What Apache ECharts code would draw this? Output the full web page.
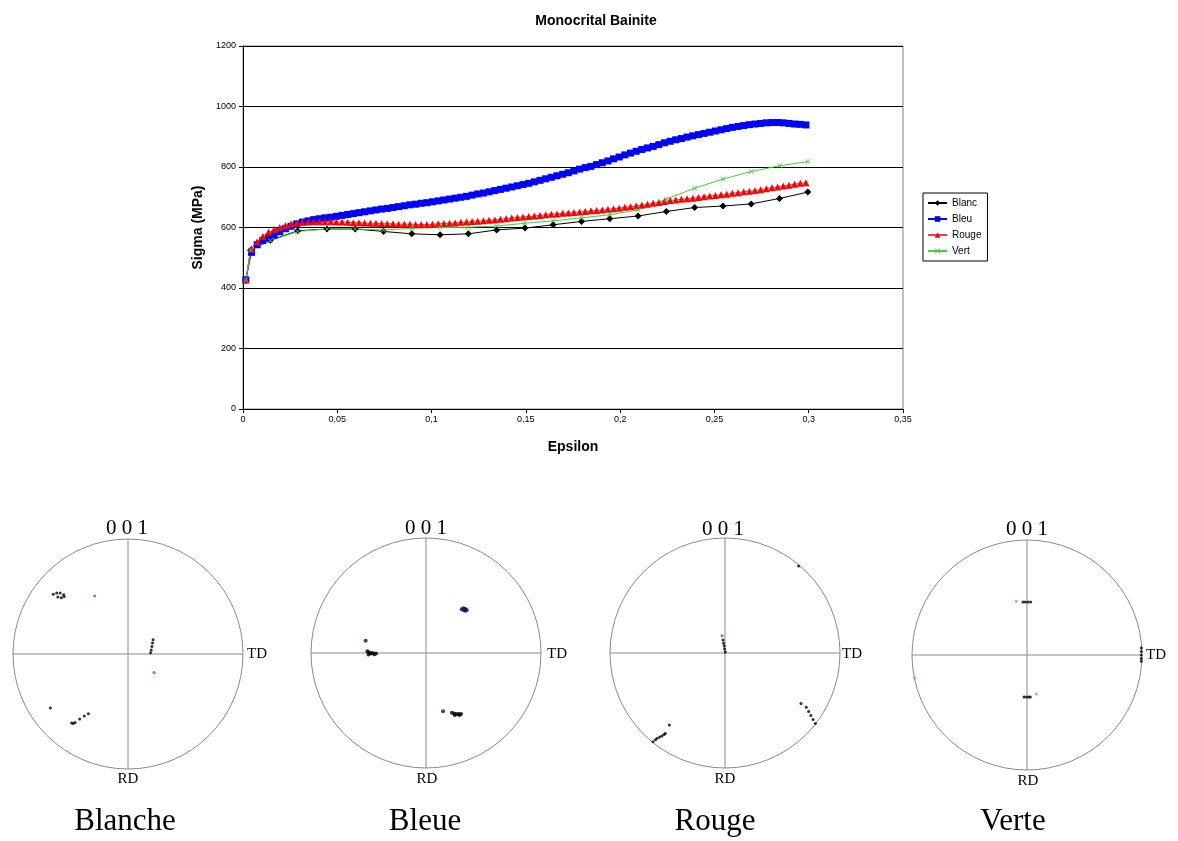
<!DOCTYPE html>
<html>
<head>
<meta charset="utf-8">
<script src="https://cdn.jsdelivr.net/npm/echarts@6/dist/echarts.min.js"></script>
<style>
html,body{margin:0;padding:0;background:#fff;}
#c{width:1178px;height:841px;}
</style>
</head>
<body>
<div id="c"></div>
<script>
// ---------- stress-strain data ----------
var epsDense = [0.0015,0.0045,0.0075,0.0105,0.0135,0.0165,0.0195,0.0225,0.0255,0.0285,0.0315,0.0345,0.0375,0.0405,0.0435,0.0465,0.0495,0.0525,0.0555,0.0585,0.0615,0.0645,0.0675,0.0705,0.0735,0.0765,0.0795,0.0825,0.0855,0.0885,0.0915,0.0945,0.0975,0.1005,0.1035,0.1065,0.1095,0.1125,0.1155,0.1185,0.1215,0.1245,0.1275,0.1305,0.1335,0.1365,0.1395,0.1425,0.1455,0.1485,0.1515,0.1545,0.1575,0.1605,0.1635,0.1665,0.1695,0.1725,0.1755,0.1785,0.1815,0.1845,0.1875,0.1905,0.1935,0.1965,0.1995,0.2025,0.2055,0.2085,0.2115,0.2145,0.2175,0.2205,0.2235,0.2265,0.2295,0.2325,0.2355,0.2385,0.2415,0.2445,0.2475,0.2505,0.2535,0.2565,0.2595,0.2625,0.2655,0.2685,0.2715,0.2745,0.2775,0.2805,0.2835,0.2865,0.2895,0.2925,0.2955,0.2985];
var bleu = [427,518,543,557,566,575,586,596,604,612,618,622,626,629,632,634,637,640,643,646,649,652,655,658,661,663,666,669,672,675,677,680,682,685,688,691,694,697,700,703,707,711,714,718,722,726,730,734,738,742,746,751,756,761,766,771,776,781,787,793,798,802,808,814,820,827,833,840,846,852,858,863,868,874,880,885,890,894,899,903,907,911,915,919,923,927,931,934,937,940,942,944,946,947,947,946,944,942,941,939];
var rouge = [427,530,553,570,584,593,600,607,612,615,617,618,619,619,619,619,618,618,617,616,616,615,614,614,613,612,612,611,611,611,610,610,610,611,612,613,614,615,617,618,620,621,622,624,625,627,629,631,633,635,636,638,640,642,644,645,647,648,650,651,653,655,656,658,660,662,664,667,669,671,674,677,680,683,686,689,691,693,695,697,699,702,704,706,708,710,713,715,718,720,722,725,728,731,734,737,740,743,746,748];
var epsSparse = [0.0015,0.004,0.0145,0.029,0.0445,0.0595,0.0745,0.0895,0.1045,0.1195,0.1345,0.1495,0.1645,0.1795,0.1945,0.2095,0.2245,0.2395,0.2545,0.2695,0.2845,0.2995];
var blanc = [425,525,558,589,595,595,587,579,576,579,592,598,609,620,629,638,653,666,671,678,696,717];
var vert  = [427,525,556,587,595,595,592,597,600,601,605,614,622,632,642,658,694,730,760,785,804,818];
var seriesNames = ['Blanc','Bleu','Rouge','Vert'];
var xTicks = [0,0.05,0.1,0.15,0.2,0.25,0.3,0.35];
var yTicks = [0,200,400,600,800,1000,1200];

// ---------- pole figure data (unit-circle x = TD, y = up) ----------
var poleNames = ['Blanche','Bleue','Rouge','Verte'];
var blancheBlack = [[-0.65,0.52],[-0.62,0.53],[-0.59,0.53],[-0.56,0.515],[-0.555,0.50],[-0.58,0.49],[-0.61,0.495],[0.218,0.125],[0.213,0.095],[0.208,0.065],[0.202,0.035],[0.196,0.01],[-0.675,-0.47],[-0.49,-0.60],[-0.475,-0.605],[-0.46,-0.595],[-0.42,-0.565],[-0.38,-0.54],[-0.345,-0.52]];
var blancheRed = [[-0.29,0.505],[0.226,-0.16]];
var bleueNavy = [[0.31,0.38],[0.325,0.39],[0.34,0.385],[0.355,0.375],[0.33,0.37],[0.345,0.368],[-0.525,0.107],[0.148,-0.507]];
var bleueBlack = [[-0.51,0.015],[-0.495,0.005],[-0.48,-0.005],[-0.465,0.0],[-0.45,-0.01],[-0.435,-0.005],[-0.5,-0.012],[0.225,-0.52],[0.245,-0.525],[0.265,-0.53],[0.285,-0.53],[0.305,-0.53],[0.25,-0.54],[0.29,-0.54]];
var rougeBlack = [[-0.017,0.113],[-0.012,0.085],[-0.007,0.06],[-0.003,0.035],[0.002,0.008],[0.64,0.757],[-0.626,-0.771],[-0.605,-0.755],[-0.59,-0.742],[-0.568,-0.73],[-0.548,-0.722],[-0.53,-0.708],[-0.519,-0.699],[-0.484,-0.626],[0.661,-0.44],[0.707,-0.472],[0.727,-0.508],[0.746,-0.543],[0.766,-0.578],[0.786,-0.614]];
var rougeRed = [[-0.026,0.15]];
var verteBlack = [[-0.035,0.46],[-0.015,0.46],[0.01,0.46],[0.032,0.46],[0.994,0.06],[0.994,0.03],[0.994,0.0],[0.994,-0.03],[0.994,-0.055],[-0.026,-0.365],[-0.005,-0.365],[0.015,-0.365],[0.029,-0.365]];
var verteGreen = [[-0.093,0.467],[-0.977,-0.2],[0.081,-0.339]];

function pairs(xs, ys){ return xs.map(function(x,i){ return [x, ys[i]]; }); }
function toPolar(pts){
  return pts.map(function(p){
    var r = Math.sqrt(p[0]*p[0]+p[1]*p[1]);
    var a = Math.atan2(p[1],p[0])*180/Math.PI; if (a<0) a+=360;
    return [r,a];
  });
}
function comma(v){ return String(+v.toFixed(2)).replace('.',','); }

var xSym = 'path://M0,1L1,0L5,4L9,0L10,1L6,5L10,9L9,10L5,6L1,10L0,9L4,5Z';

var chart = echarts.init(document.getElementById('c'), null, {renderer:'canvas'});

var polarCenters = [[128,654],[426,653],[725,653],[1027,655]];
var polars = [], angleAxes = [], radiusAxes = [];
polarCenters.forEach(function(c,i){
  polars.push({center:c, radius:115});
  angleAxes.push({polarIndex:i, type:'value', min:0, max:360, interval:90, startAngle:0, clockwise:false,
    axisLine:{show:true, lineStyle:{color:'#8a8a8a', width:1}}, axisTick:{show:false}, axisLabel:{show:false},
    splitLine:{show:true, lineStyle:{color:'#8a8a8a', width:1}}});
  radiusAxes.push({polarIndex:i, type:'value', min:0, max:1,
    axisLine:{show:false}, axisTick:{show:false}, axisLabel:{show:false}, splitLine:{show:false}});
});

function poleSeries(pi, pts, color, size){
  return {type:'scatter', coordinateSystem:'polar', polarIndex:pi, data:toPolar(pts),
    symbol:'circle', symbolSize:size, itemStyle:{color:color}, silent:true};
}

var serifFont = '"Liberation Serif","DejaVu Serif",serif';
var graphics = [];
var labelPos = [
  {o:[127,528], td:[247,654], rd:[128,779], cap:[125,822]},
  {o:[426,528], td:[547,654], rd:[427,779], cap:[425,822]},
  {o:[723,529], td:[842,654], rd:[725,779], cap:[715,822]},
  {o:[1027,529], td:[1146,655], rd:[1028,781], cap:[1013,822]}
];
labelPos.forEach(function(p,i){
  graphics.push({type:'text', x:p.o[0], y:p.o[1], style:{text:'0 0 1', font:'21px '+serifFont, fill:'#000', align:'center', verticalAlign:'middle', textAlign:'center', textVerticalAlign:'middle'}});
  graphics.push({type:'text', x:p.td[0], y:p.td[1], style:{text:'TD', font:'15px '+serifFont, fill:'#000', align:'left', verticalAlign:'middle', textAlign:'left', textVerticalAlign:'middle'}});
  graphics.push({type:'text', x:p.rd[0], y:p.rd[1], style:{text:'RD', font:'15px '+serifFont, fill:'#000', align:'center', verticalAlign:'middle', textAlign:'center', textVerticalAlign:'middle'}});
  graphics.push({type:'text', x:p.cap[0], y:p.cap[1], style:{text:poleNames[i], font:'31px '+serifFont, fill:'#000', align:'center', verticalAlign:'middle', textAlign:'center', textVerticalAlign:'middle'}});
});

var option = {
  animation:false,
  backgroundColor:'#fff',
  title:{text:'Monocrital Bainite', left:591, top:9, textAlign:'center',
    textStyle:{fontFamily:'Liberation Sans, Arial, sans-serif', fontSize:14, fontWeight:'bold', color:'#000'}},
  legend:{data:seriesNames, orient:'vertical', left:923, top:193, padding:[4,6,4,4],
    borderColor:'#000', borderWidth:1, itemGap:4, itemWidth:19, itemHeight:7,
    textStyle:{fontFamily:'Liberation Sans, Arial, sans-serif', fontSize:10, color:'#000', lineHeight:12}},
  grid:{left:243, right:275, top:46, bottom:432, show:true, borderColor:'#808080', borderWidth:1, backgroundColor:'#fff'},
  xAxis:{type:'value', min:0, max:0.35, interval:0.05, name:'Epsilon', nameLocation:'middle', nameGap:31,
    nameTextStyle:{fontFamily:'Liberation Sans, Arial, sans-serif', fontSize:14, fontWeight:'bold', color:'#000'},
    axisLine:{lineStyle:{color:'#000', width:1}}, axisTick:{show:true, length:4, lineStyle:{color:'#000'}},
    axisLabel:{formatter:function(v){return comma(v);}, fontFamily:'Liberation Sans, Arial, sans-serif', fontSize:9, color:'#000', margin:6},
    splitLine:{show:false}},
  yAxis:{type:'value', min:0, max:1200, interval:200, name:'Sigma (MPa)', nameLocation:'middle', nameGap:36,
    nameTextStyle:{fontFamily:'Liberation Sans, Arial, sans-serif', fontSize:14, fontWeight:'bold', color:'#000'},
    axisLine:{show:true, lineStyle:{color:'#000', width:1}}, axisTick:{show:true, length:4, lineStyle:{color:'#000'}},
    axisLabel:{formatter:function(v){return String(v);}, fontFamily:'Liberation Sans, Arial, sans-serif', fontSize:9, color:'#000', margin:7},
    splitLine:{show:true, lineStyle:{color:'#000', width:1}}},
  polar:polars,
  angleAxis:angleAxes,
  radiusAxis:radiusAxes,
  series:[
    {name:'Blanc', type:'line', data:pairs(epsSparse, blanc), symbol:'diamond', symbolSize:7,
      lineStyle:{color:'#000', width:1}, itemStyle:{color:'#000'}},
    {name:'Bleu', type:'line', data:pairs(epsDense, bleu), symbol:'rect', symbolSize:7,
      lineStyle:{color:'#0000ff', width:1}, itemStyle:{color:'#0000ff'}},
    {name:'Rouge', type:'line', data:pairs(epsDense, rouge), symbol:'triangle', symbolSize:7,
      lineStyle:{color:'#e04060', width:1}, itemStyle:{color:'#ff0000'}},
    {name:'Vert', type:'line', data:pairs(epsSparse, vert), symbol:xSym, symbolSize:5,
      lineStyle:{color:'#44cc44', width:1}, itemStyle:{color:'#44cc44'}},
    poleSeries(0, blancheBlack, '#000', 3),
    poleSeries(0, blancheRed, '#e03030', 3),
    poleSeries(1, bleueBlack, '#000', 4),
    poleSeries(1, bleueNavy, '#101060', 4),
    poleSeries(2, rougeBlack, '#000', 3),
    poleSeries(2, rougeRed, '#e03030', 3),
    poleSeries(3, verteBlack, '#000', 3),
    poleSeries(3, verteGreen, '#44dd44', 3)
  ],
  graphic:graphics
};
chart.setOption(option);
</script>
</body>
</html>
